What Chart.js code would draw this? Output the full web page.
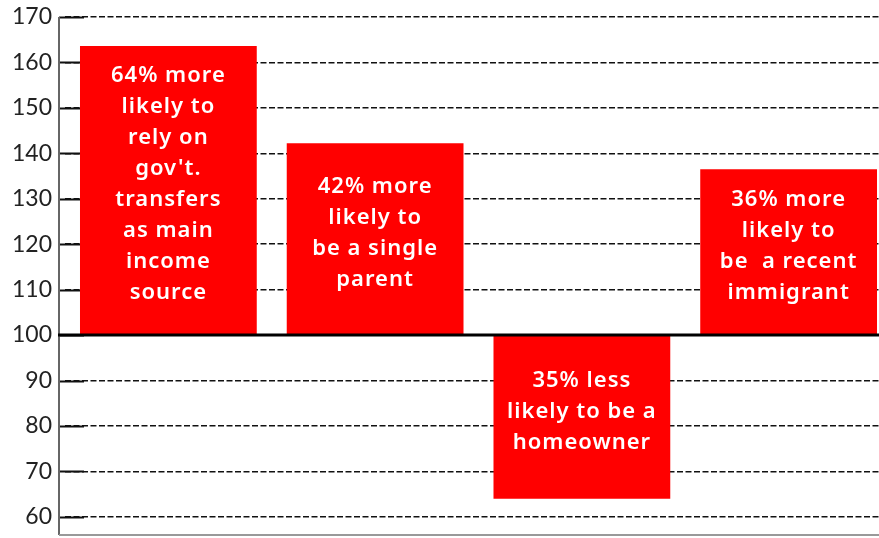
<!DOCTYPE html>
<html>
<head>
<meta charset="utf-8">
<script src="https://cdn.jsdelivr.net/npm/chart.js@4"></script>
<style>
  html, body { margin: 0; padding: 0; background: #fff; overflow: hidden; }
  #wrap { position: relative; width: 892px; height: 538px; }
</style>
</head>
<body>
<div id="wrap"><canvas id="chart"></canvas></div>
<script>
// ---- data ----
const categories = ['Government transfers', 'Single parent', 'Homeowner', 'Recent immigrant'];
const values     = [163.6, 142.2, 64, 136.5];
const baseline   = 100;
const tickValues = [60, 70, 80, 90, 100, 110, 120, 130, 140, 150, 160, 170];
const barLabels  = [
  ['64% more', 'likely to', 'rely on', "gov't.", 'transfers', 'as main', 'income', 'source'],
  ['42% more', 'likely to', 'be a single', 'parent'],
  ['35% less', 'likely to be a', 'homeowner'],
  ['36% more', 'likely to', 'be  a recent', 'immigrant'],
];

const RED = '#ff0000';

// tick stubs, axis lines, heavy 100 line, and white text inside the bars
const decorations = {
  id: 'decorations',
  beforeDatasetsDraw(chart) {
    const { ctx, chartArea, scales: { y } } = chart;
    const axisX = chartArea.left - 6;
    ctx.save();
    ctx.strokeStyle = '#111';
    ctx.lineWidth = 2;
    tickValues.forEach(v => {
      const py = Math.round(y.getPixelForValue(v)) + 0.5;
      ctx.beginPath();
      ctx.moveTo(axisX, py);
      ctx.lineTo(axisX + 25, py);
      ctx.stroke();
    });
    ctx.strokeStyle = '#666';
    ctx.lineWidth = 2;
    ctx.beginPath();
    ctx.moveTo(axisX, chartArea.top);
    ctx.lineTo(axisX, chartArea.bottom);
    ctx.stroke();
    ctx.strokeStyle = '#999';
    ctx.beginPath();
    ctx.moveTo(axisX, chartArea.bottom);
    ctx.lineTo(chart.width, chartArea.bottom);
    ctx.stroke();
    ctx.restore();
  },
  afterDatasetsDraw(chart) {
    const { ctx, chartArea, scales: { y } } = chart;
    ctx.save();
    // heavy baseline
    const by = y.getPixelForValue(baseline);
    ctx.strokeStyle = '#000';
    ctx.lineWidth = 3;
    ctx.beginPath();
    ctx.moveTo(chartArea.left - 7, by);
    ctx.lineTo(chart.width, by);
    ctx.stroke();

    // labels
    ctx.fillStyle = '#fff';
    ctx.font = '600 22px "Noto Sans"';
    ctx.textAlign = 'center';
    ctx.textBaseline = 'middle';
    if ('letterSpacing' in ctx) ctx.letterSpacing = '1px';
    const lineH = 31;
    chart.getDatasetMeta(0).data.forEach((bar, i) => {
      const lines = barLabels[i];
      const mid = (bar.y + bar.base) / 2 - 6;
      const start = mid - (lines.length - 1) * lineH / 2;
      lines.forEach((t, k) => ctx.fillText(t, bar.x, start + k * lineH));
    });
    ctx.restore();
  }
};

new Chart(document.getElementById('chart'), {
  type: 'bar',
  data: {
    labels: categories,
    datasets: [{
      data: values,
      base: baseline,
      backgroundColor: RED,
      borderWidth: 0,
      categoryPercentage: 1,
      barPercentage: 0.855,
    }],
  },
  options: {
    responsive: true,
    maintainAspectRatio: false,
    animation: false,
    layout: { padding: { top: 17, bottom: 3, right: 0, left: 0 } },
    plugins: { legend: { display: false }, tooltip: { enabled: false } },
    scales: {
      x: { display: false },
      y: {
        min: 56,
        max: 170,
        afterFit: s => { s.width = 65; s.paddingTop = 0; s.paddingBottom = 0; },
        afterBuildTicks: s => { s.ticks = tickValues.map(v => ({ value: v })); },
        grid: {
          color: '#111',
          lineWidth: 1.5,
          drawTicks: false,
        },
        border: { display: false, dash: [6, 2.5] },
        ticks: {
          color: '#222',
          padding: 13,
          font: { family: 'Lato', size: 23 },
        },
      },
    },
  },
  plugins: [decorations],
});
</script>
</body>
</html>
